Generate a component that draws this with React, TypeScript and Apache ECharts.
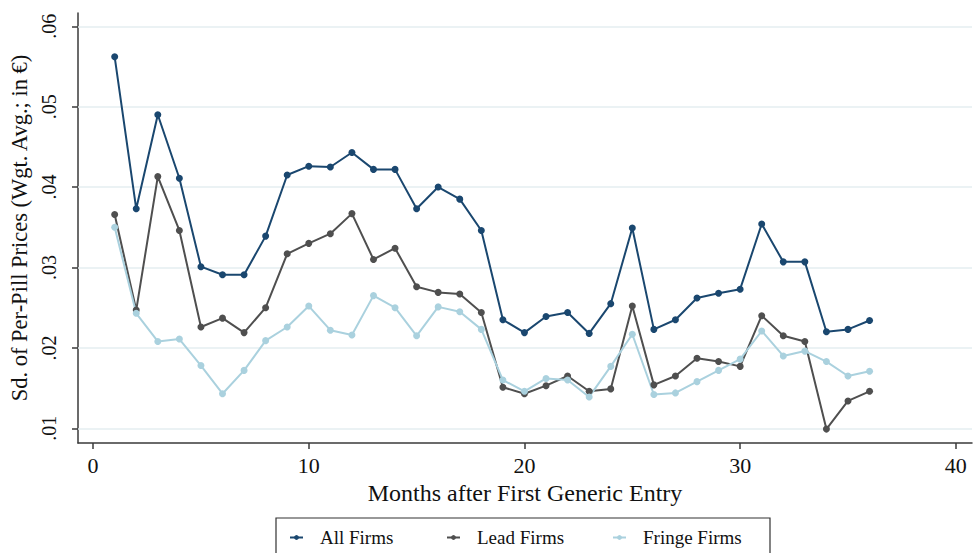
import React, { useEffect, useRef } from "react";
import * as echarts from "echarts";

const months = [1,2,3,4,5,6,7,8,9,10,11,12,13,14,15,16,17,18,19,20,21,22,23,24,25,26,27,28,29,30,31,32,33,34,35,36];
const allFirms = [0.0562,0.0373,0.0490,0.0411,0.0301,0.0291,0.0291,0.0339,0.0415,0.0426,0.0425,0.0443,0.0422,0.0422,0.0373,0.0400,0.0385,0.0346,0.0235,0.0219,0.0239,0.0244,0.0218,0.0255,0.0349,0.0223,0.0235,0.0262,0.0268,0.0273,0.0354,0.0307,0.0307,0.0220,0.0223,0.0234];
const leadFirms = [0.0366,0.0247,0.0413,0.0346,0.0226,0.0237,0.0219,0.0250,0.0317,0.0330,0.0342,0.0367,0.0310,0.0324,0.0276,0.0269,0.0267,0.0244,0.0151,0.0143,0.0153,0.0165,0.0146,0.0149,0.0252,0.0154,0.0165,0.0187,0.0183,0.0177,0.0240,0.0215,0.0208,0.0099,0.0134,0.0146];
const fringeFirms = [0.0350,0.0243,0.0208,0.0211,0.0178,0.0143,0.0172,0.0209,0.0226,0.0252,0.0222,0.0216,0.0265,0.0250,0.0215,0.0251,0.0245,0.0223,0.0160,0.0146,0.0162,0.0160,0.0139,0.0177,0.0217,0.0142,0.0144,0.0158,0.0172,0.0186,0.0221,0.0190,0.0196,0.0183,0.0165,0.0171];
const seriesNames = ["All Firms", "Lead Firms", "Fringe Firms"];
const xTicks = [0, 10, 20, 30, 40];
const yTicks = [0.01, 0.02, 0.03, 0.04, 0.05, 0.06];

const FONT = "Liberation Serif";
const colors = ["#1a476f", "#4f4f4f", "#aad1de"];

export default function App() {
  const ref = useRef<HTMLDivElement>(null);
  useEffect(() => {
    if (!ref.current) return;
    const chart = echarts.init(ref.current, null, { renderer: "svg" });
    const datasets = [allFirms, leadFirms, fringeFirms];
    const legendLefts = [289, 446, 612];
    chart.setOption({
      animation: false,
      backgroundColor: "#ffffff",
      grid: { left: 78, right: 2, top: 13, bottom: 110, containLabel: false },
      xAxis: {
        type: "value",
        min: -0.7,
        max: 40.75,
        name: "Months after First Generic Entry",
        nameLocation: "middle",
        nameGap: 37,
        nameTextStyle: { fontFamily: FONT, fontSize: 24, color: "#111" },
        axisLine: { show: true, onZero: false, lineStyle: { color: "#3a3a3a", width: 1.5 } },
        axisTick: { show: true, customValues: xTicks, length: 6, lineStyle: { color: "#3a3a3a", width: 1.5 } },
        axisLabel: { customValues: xTicks, fontFamily: FONT, fontSize: 22, color: "#111", margin: 11 },
        splitLine: { show: false },
      },
      yAxis: {
        type: "value",
        min: 0.00817,
        max: 0.06165,
        name: "Sd. of Per-Pill Prices (Wgt. Avg.; in €)",
        nameLocation: "middle",
        nameRotate: 90,
        nameGap: 44,
        nameTextStyle: { fontFamily: FONT, fontSize: 22.5, color: "#111" },
        axisLine: { show: true, onZero: false, lineStyle: { color: "#3a3a3a", width: 1.5 } },
        axisTick: { show: true, customValues: yTicks, length: 6, lineStyle: { color: "#3a3a3a", width: 1.5 } },
        axisLabel: {
          customValues: yTicks,
          rotate: 90,
          align: "center",
          verticalAlign: "bottom",
          margin: 19,
          fontFamily: FONT,
          fontSize: 20,
          color: "#111",
          formatter: (v: number) => "." + String(Math.round(v * 100)).padStart(2, "0"),
        },
        splitLine: { show: false },
      },
      legend: seriesNames.map((n, i) => ({
        data: [n],
        left: legendLefts[i],
        top: 528,
        itemWidth: 13,
        itemHeight: 6,
        itemGap: 0,
        padding: 0,
        textStyle: { fontFamily: FONT, fontSize: 19, color: "#111", padding: [0, 0, 0, 12] },
      })),
      graphic: [
        {
          type: "rect",
          shape: { x: 276, y: 518, width: 494, height: 60 },
          style: { fill: "none", stroke: "#333", lineWidth: 1.2 },
          silent: true,
          z: -1,
        },
      ],
      series: seriesNames.map((n, i) => ({
        name: n,
        type: "line",
        z: 3,
        data: months.map((m, j) => [m, datasets[i][j]]),
        symbol: "circle",
        symbolSize: 7,
        showSymbol: true,
        itemStyle: { color: colors[i] },
        lineStyle: { color: colors[i], width: 2 },
        ...(i === 0
          ? {
              markLine: {
                silent: true,
                z: 1,
                symbol: ["none", "none"],
                label: { show: false },
                emphasis: { disabled: true },
                lineStyle: { color: "#e5eef0", width: 1.5, type: "solid" },
                data: yTicks.map((v) => ({ yAxis: v })),
              },
            }
          : {}),
      })),
    });
    return () => chart.dispose();
  }, []);
  return <div ref={ref} style={{ width: 974, height: 553, position: "absolute", left: 0, top: 0 }} />;
}
